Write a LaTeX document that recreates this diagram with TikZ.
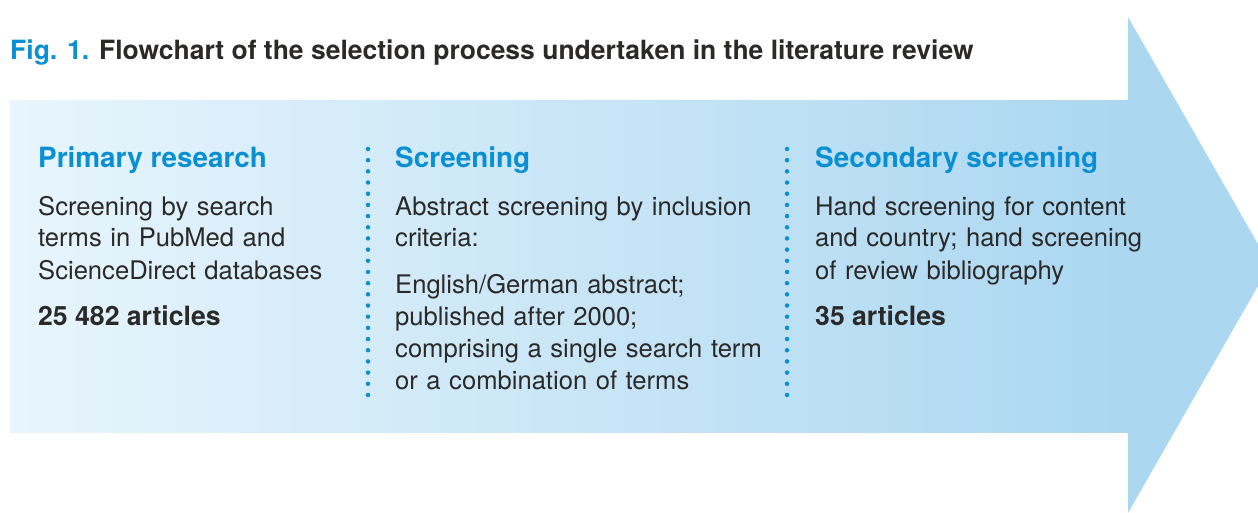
\documentclass[tikz,border=0pt]{standalone}
\usepackage{fontspec}
\setmainfont{TeX Gyre Heros}
\definecolor{figblue}{HTML}{0A8FD3}
\definecolor{bodytext}{HTML}{2B2A29}
\definecolor{arrowlight}{HTML}{E8F5FC}
\definecolor{arrowdark}{HTML}{ABD7F1}
\begin{document}
\begin{tikzpicture}[x=1pt,y=-1pt,
  stage/.style={anchor=base west,inner sep=0,font=\fontsize{27.9}{32}\selectfont\bfseries,text=figblue},
  para/.style={anchor=base west,inner sep=0,align=left,text width=380pt,font=\fontsize{25.6}{32}\selectfont,text=bodytext},
  total/.style={anchor=base west,inner sep=0,font=\fontsize{26.6}{32}\selectfont\bfseries,text=bodytext},
  divider/.style={figblue,line width=4.5pt,line cap=round,dash pattern=on 0pt off 11.18pt}]
\useasboundingbox (0,0) rectangle (1258,513);
\clip (0,0) rectangle (1258,513);
% big arrow
\shade[left color=arrowlight,right color=arrowdark] (10,101) rectangle (1128.5,432);
\fill[arrowdark] (1128,17) -- (1270,265) -- (1128,513) -- cycle;
% caption
\node (title) [anchor=base west,inner sep=0,font=\fontsize{26.5}{30}\selectfont\bfseries,text=bodytext] at (10,60)
  {\textcolor{figblue}{Fig. 1.} Flowchart of the selection process undertaken in the literature review};
% primary research
\node (primhead) [stage] at (38,168) {Primary research};
\node (primtext) [para] at (38,215) {Screening by search\\terms in PubMed and\\ScienceDirect databases};
\node (primtotal) [total] at (38,325) {25 482 articles};
% screening
\draw[divider] (368,149) -- (368,395);
\node (scrhead) [stage] at (395,168) {Screening};
\node (scrtext) [para] at (395,215) {Abstract screening by inclusion\\criteria:};
\node (scrcrit) [para] at (395,293) {English/German abstract;\\published after 2000;\\comprising a single search term\\or a combination of terms};
% secondary screening
\draw[divider] (787,149) -- (787,395);
\node (sechead) [stage] at (815,168) {Secondary screening};
\node (sectext) [para] at (815,215) {Hand screening for content\\and country; hand screening\\of review bibliography};
\node (sectotal) [total] at (815,325) {35 articles};
\end{tikzpicture}
\end{document}
